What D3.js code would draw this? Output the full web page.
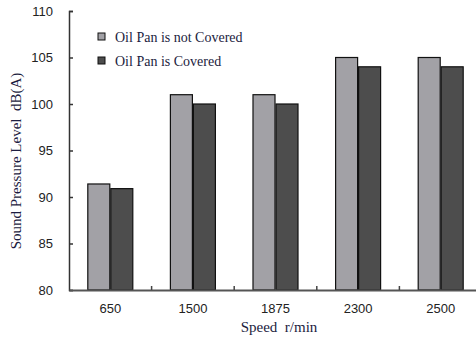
<!DOCTYPE html>
<html>
<head>
<meta charset="utf-8">
<script src="https://cdn.jsdelivr.net/npm/d3@7"></script>
<style>
body { margin: 0; background: #fff; }
svg { display: block; }
</style>
</head>
<body>
<svg id="chart" width="476" height="344"></svg>
<script>
var speeds = ["650", "1500", "1875", "2300", "2500"];
var notCovered = [91.4, 101, 101, 105, 105];
var covered = [90.9, 100, 100, 104, 104];
var seriesNames = ["Oil Pan is not Covered", "Oil Pan is Covered"];
var yTicks = [80, 85, 90, 95, 100, 105, 110];

var colors = ["#a2a1a6", "#4d4d4d"];
var svg = d3.select("#chart");
var plotLeft = 69, plotTop = 11, plotBottom = 290, plotRight = 482;

var x = d3.scaleBand().domain(speeds).range([plotLeft, plotRight]);
var y = d3.scaleLinear().domain([80, 110]).range([plotBottom, plotTop]);
var sub = d3.scaleBand().domain([0, 1]).range([0, 46]);

var groups = svg.selectAll("g.grp").data(speeds).enter()
  .append("g")
  .attr("class", "grp")
  .attr("transform", function(d) {
    return "translate(" + (x(d) + x.bandwidth() / 2 - 23) + ",0)";
  });

groups.selectAll("rect").data(function(d, i) { return [notCovered[i], covered[i]]; })
  .enter().append("rect")
  .attr("x", function(d, j) { return sub(j) + 0.5; })
  .attr("y", function(d) { return y(d); })
  .attr("width", sub.bandwidth() - 1)
  .attr("height", function(d) { return plotBottom - y(d); })
  .attr("fill", function(d, j) { return colors[j]; })
  .attr("stroke", "#111")
  .attr("stroke-width", 1.2);

// y axis
var yaxis = d3.axisLeft(y).tickValues(yTicks).tickSize(-4).tickPadding(16);
var ya = svg.append("g").attr("transform", "translate(" + plotLeft + ",0)").call(yaxis);
ya.select(".domain").attr("stroke", "#333").attr("stroke-width", 1.5);
ya.selectAll(".tick line").attr("stroke", "#333").attr("stroke-width", 1.5);
ya.selectAll("text").attr("font-family", "Liberation Sans, Arial, sans-serif")
  .attr("font-size", 13).attr("fill", "#222");

// x axis
var xaxis = d3.axisBottom(x).tickSize(0).tickPadding(14);
var xa = svg.append("g").attr("transform", "translate(0," + plotBottom + ")").call(xaxis);
xa.select(".domain").attr("stroke", "#555").attr("stroke-width", 2);
xa.selectAll("text").attr("font-family", "Liberation Sans, Arial, sans-serif")
  .attr("font-size", 13).attr("fill", "#222");

// dividers between categories
svg.selectAll("line.div").data(speeds.slice(1)).enter()
  .append("line")
  .attr("x1", function(d) { return x(d); })
  .attr("x2", function(d) { return x(d); })
  .attr("y1", plotBottom - 4)
  .attr("y2", plotBottom)
  .attr("stroke", "#444")
  .attr("stroke-width", 1.5);

// axis titles
svg.append("text")
  .attr("x", 279).attr("y", 332)
  .attr("text-anchor", "middle")
  .attr("font-family", "Liberation Serif, Times New Roman, serif")
  .attr("font-size", 15).attr("fill", "#1c1c40")
  .attr("xml:space", "preserve")
  .text("Speed  r/min");

svg.append("text")
  .attr("transform", "translate(21,161) rotate(-90)")
  .attr("text-anchor", "middle")
  .attr("font-family", "Liberation Serif, Times New Roman, serif")
  .attr("font-size", 15).attr("fill", "#1c1c40")
  .attr("xml:space", "preserve")
  .text("Sound Pressure Level  dB(A)");

// legend
var legend = svg.selectAll("g.leg").data(seriesNames).enter()
  .append("g")
  .attr("class", "leg")
  .attr("transform", function(d, i) { return "translate(98," + (33 + i * 24) + ")"; });

legend.append("rect")
  .attr("width", 7).attr("height", 7)
  .attr("fill", function(d, i) { return colors[i]; })
  .attr("stroke", "#111");

legend.append("text")
  .attr("x", 17).attr("y", 9)
  .attr("font-family", "Liberation Serif, Times New Roman, serif")
  .attr("font-size", 14).attr("fill", "#1c1c40")
  .text(function(d) { return d; });
</script>
</body>
</html>
